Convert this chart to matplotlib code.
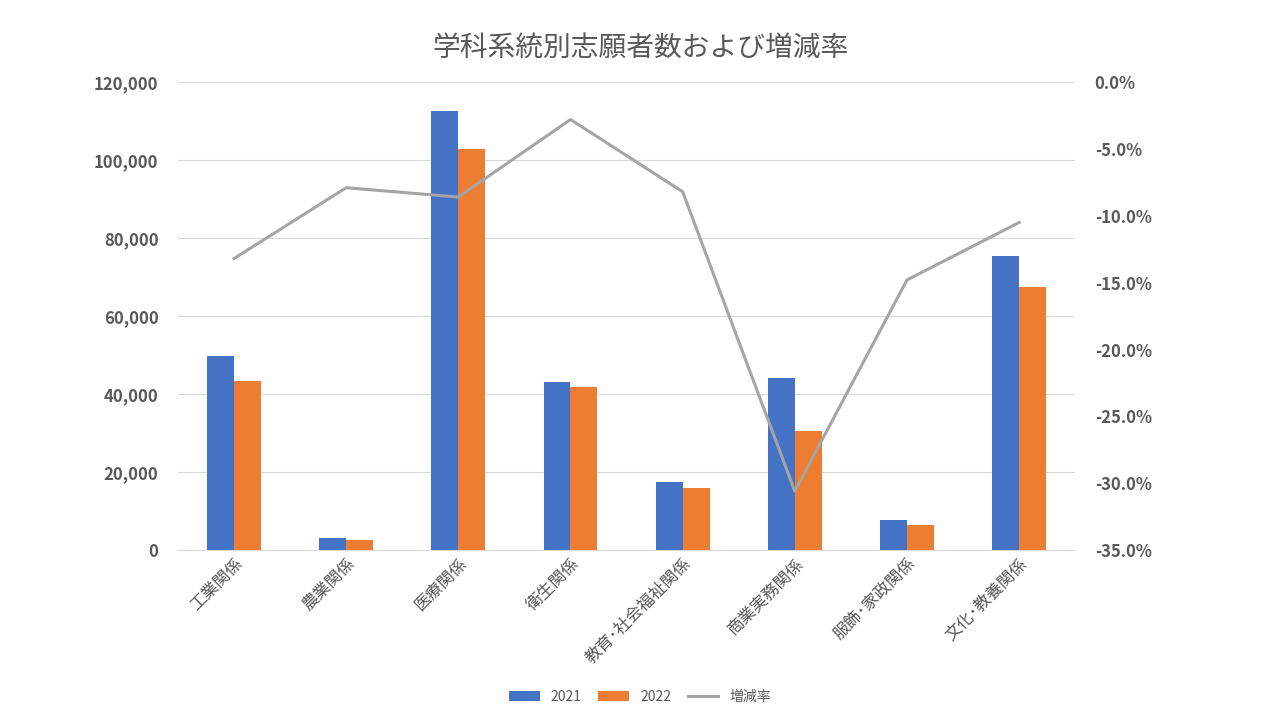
import matplotlib
matplotlib.use("Agg")
import matplotlib.pyplot as plt
import numpy as np
from matplotlib.ticker import FuncFormatter

plt.rcParams["font.family"] = ["Noto Sans CJK JP"]

categories = ["工業関係", "農業関係", "医療関係", "衛生関係", "教育･社会福祉関係", "商業実務関係", "服飾･家政関係", "文化･教養関係"]
v2021 = [49800, 3000, 112500, 43000, 17500, 44200, 7800, 75500]
v2022 = [43400, 2700, 102800, 41900, 16000, 30600, 6500, 67400]
rate = [-13.2, -7.9, -8.6, -2.8, -8.2, -30.6, -14.8, -10.5]

fig = plt.figure(figsize=(12.8, 7.2), dpi=100)
ax = fig.add_axes([0.139, 0.236, 0.701, 0.65])
x = np.arange(len(categories))
w = 0.24
ax.bar(x - w/2, v2021, w, color="#4472C4", label="2021", zorder=3)
ax.bar(x + w/2, v2022, w, color="#ED7D31", label="2022", zorder=3)
ax.set_ylim(0, 120000)
ax.set_xlim(-0.5, len(categories) - 0.5)
ax.set_yticks(range(0, 120001, 20000))
ax.yaxis.set_major_formatter(FuncFormatter(lambda v, p: f"{int(v):,}"))
ax.grid(axis="y", color="#D9D9D9", lw=0.8, zorder=0)
ax.set_xticks(x)
ax.set_xticklabels(categories, rotation=45, ha="right", rotation_mode="anchor", color="#595959", fontsize=11)
for s in ["top", "right", "left"]:
    ax.spines[s].set_visible(False)
ax.spines["bottom"].set_color("#D9D9D9")
ax.tick_params(axis="both", length=0, colors="#595959", labelsize=12)
for t in ax.get_yticklabels():
    t.set_fontweight("bold")
ax.tick_params(axis="y", pad=14)

ax2 = ax.twinx()
ax2.plot(x, rate, color="#A5A5A5", lw=2.2, label="増減率", zorder=4)
ax2.set_ylim(-35, 0)
ax2.set_yticks(np.arange(-35, 0.1, 5))
ax2.yaxis.set_major_formatter(FuncFormatter(lambda v, p: f"{v:.1f}%"))
for s in ["top", "right", "left", "bottom"]:
    ax2.spines[s].set_visible(False)
ax2.tick_params(axis="y", length=0, colors="#595959", labelsize=12, pad=14)
for t in ax2.get_yticklabels():
    t.set_fontweight("bold")

fig.suptitle("学科系統別志願者数および増減率", y=0.955, fontsize=20, color="#595959")
h1, l1 = ax.get_legend_handles_labels()
h2, l2 = ax2.get_legend_handles_labels()
fig.legend(h1 + h2, l1 + l2, loc="lower center", bbox_to_anchor=(0.5, 0.005), ncol=3, frameon=False,
           fontsize=10, labelcolor="#595959", handlelength=2.2, columnspacing=1.2)
fig.savefig("out.png", dpi=100)
